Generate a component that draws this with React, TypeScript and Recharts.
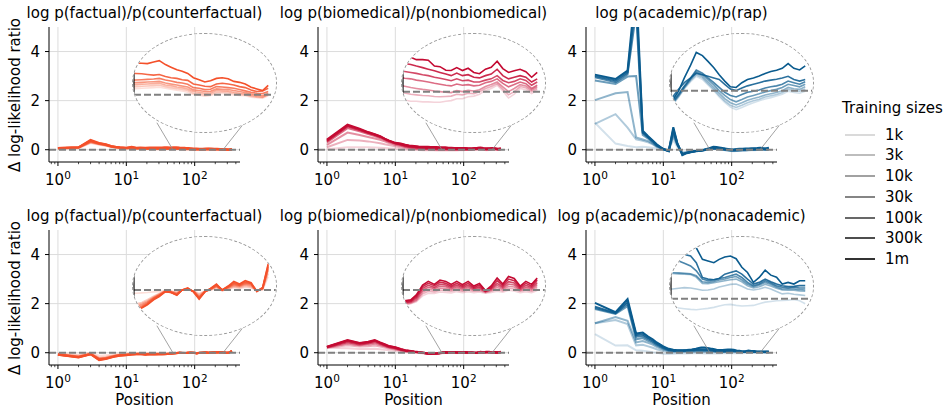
import React from 'react';
import { LineChart, Line, XAxis, YAxis, CartesianGrid, ReferenceLine } from 'recharts';

// token positions (shared by all panels)
const positions = [1, 2, 3, 4, 5, 6, 7, 8, 10, 12, 14, 16, 19, 22, 26, 30, 33, 36, 40, 44, 49, 54, 60, 66, 73, 80, 88, 97, 107, 118, 130, 144, 159, 176, 194, 214, 236, 261, 288, 318, 350];
const sizeLabels = ['1k', '3k', '10k', '30k', '100k', '300k', '1m'];
const xTicks = [0.8, 0.9, 1, 2, 3, 4, 5, 6, 7, 8, 9, 10, 20, 30, 40, 50, 60, 70, 80, 90, 100, 200, 300, 400];
const yTicks = [0, 2, 4];

// one row per training size, 1k -> 1m
const factualTop = [
  [0.04, 0.07, 0.27, 0.2, 0.16, 0.11, 0.08, 0.07, 0.05, 0.06, 0.04, 0.035, 0.025, 0.02, 0.02, 0.018, 0.018, 0.019, 0.02, 0.021, 0.022, 0.023, 0.02, 0.017, 0.014, 0.012, 0.008, 0.001, -0.001, -0.004, -0.002, 0.004, 0.004, 0.003, 0, -0.002, -0.003, -0.007, -0.009, -0.01, -0.003],
  [0.05, 0.08, 0.29, 0.22, 0.17, 0.12, 0.09, 0.07, 0.05, 0.07, 0.04, 0.04, 0.03, 0.026, 0.025, 0.024, 0.024, 0.025, 0.026, 0.027, 0.028, 0.029, 0.025, 0.022, 0.019, 0.017, 0.013, 0.005, 0.003, 0, 0.002, 0.008, 0.008, 0.007, 0.004, 0.002, 0, -0.004, -0.007, -0.008, 0],
  [0.05, 0.08, 0.31, 0.23, 0.18, 0.12, 0.09, 0.08, 0.06, 0.07, 0.045, 0.045, 0.035, 0.032, 0.03, 0.03, 0.03, 0.031, 0.032, 0.033, 0.034, 0.035, 0.03, 0.028, 0.024, 0.022, 0.018, 0.01, 0.008, 0.005, 0.006, 0.013, 0.012, 0.011, 0.008, 0.005, 0.003, -0.001, -0.004, -0.006, 0.002],
  [0.06, 0.09, 0.33, 0.24, 0.19, 0.13, 0.1, 0.08, 0.06, 0.08, 0.05, 0.05, 0.04, 0.04, 0.038, 0.036, 0.036, 0.037, 0.038, 0.039, 0.04, 0.041, 0.036, 0.033, 0.03, 0.027, 0.024, 0.015, 0.013, 0.01, 0.011, 0.018, 0.017, 0.016, 0.013, 0.01, 0.007, 0.003, 0, -0.002, 0.005],
  [0.06, 0.09, 0.35, 0.25, 0.2, 0.13, 0.1, 0.09, 0.07, 0.09, 0.06, 0.06, 0.05, 0.045, 0.045, 0.044, 0.044, 0.045, 0.046, 0.047, 0.048, 0.05, 0.045, 0.042, 0.038, 0.036, 0.032, 0.022, 0.02, 0.016, 0.017, 0.025, 0.024, 0.022, 0.02, 0.016, 0.012, 0.008, 0.005, 0.004, 0.01],
  [0.07, 0.1, 0.37, 0.26, 0.21, 0.14, 0.11, 0.09, 0.07, 0.1, 0.07, 0.07, 0.06, 0.065, 0.065, 0.066, 0.066, 0.065, 0.064, 0.062, 0.06, 0.062, 0.056, 0.052, 0.05, 0.046, 0.044, 0.033, 0.03, 0.026, 0.025, 0.033, 0.035, 0.033, 0.03, 0.025, 0.022, 0.015, 0.01, 0.012, 0.02],
  [0.07, 0.1, 0.4, 0.28, 0.22, 0.15, 0.12, 0.1, 0.08, 0.12, 0.08, 0.09, 0.08, 0.09, 0.09, 0.095, 0.095, 0.097, 0.096, 0.095, 0.1, 0.104, 0.092, 0.084, 0.076, 0.072, 0.065, 0.052, 0.046, 0.039, 0.043, 0.05, 0.052, 0.049, 0.041, 0.038, 0.033, 0.023, 0.018, 0.013, 0.029],
];

const biomedTop = [
  [0.02, 0.1, 0.1, 0.1, 0.09, 0.08, 0.07, 0.06, 0.05, 0.03, 0.01, 0, -0.01, -0.015, -0.018, -0.02, -0.022, -0.026, -0.03, -0.03, -0.032, -0.032, -0.033, -0.033, -0.03, -0.028, -0.022, -0.022, -0.016, -0.014, -0.008, 0.004, 0.01, 0.02, 0.002, -0.02, -0.008, 0.01, 0.006, -0.006, 0.005],
  [0.1, 0.4, 0.38, 0.34, 0.3, 0.26, 0.22, 0.19, 0.14, 0.1, 0.07, 0.05, 0.03, 0.015, 0.005, 0.002, 0, -0.004, -0.008, -0.01, -0.012, -0.013, -0.015, -0.016, -0.015, -0.014, -0.008, -0.01, -0.005, -0.006, 0, 0.01, 0.016, 0.025, 0.008, -0.01, 0, 0.016, 0.012, 0, 0.01],
  [0.2, 0.7, 0.6, 0.52, 0.46, 0.4, 0.34, 0.28, 0.2, 0.16, 0.11, 0.08, 0.06, 0.045, 0.03, 0.025, 0.02, 0.017, 0.013, 0.01, 0.007, 0.005, 0.002, 0, -0.002, -0.003, 0.003, 0, 0.004, 0.002, 0.006, 0.016, 0.022, 0.03, 0.015, 0, 0.01, 0.022, 0.018, 0.005, 0.015],
  [0.3, 0.88, 0.75, 0.64, 0.56, 0.48, 0.4, 0.33, 0.24, 0.19, 0.14, 0.11, 0.09, 0.07, 0.055, 0.05, 0.045, 0.042, 0.04, 0.036, 0.033, 0.03, 0.026, 0.023, 0.02, 0.018, 0.024, 0.02, 0.022, 0.018, 0.02, 0.028, 0.032, 0.04, 0.026, 0.015, 0.022, 0.03, 0.025, 0.01, 0.02],
  [0.35, 0.95, 0.8, 0.68, 0.6, 0.52, 0.43, 0.36, 0.26, 0.21, 0.16, 0.13, 0.11, 0.09, 0.075, 0.07, 0.065, 0.063, 0.06, 0.057, 0.053, 0.05, 0.045, 0.042, 0.038, 0.034, 0.04, 0.034, 0.036, 0.03, 0.03, 0.036, 0.04, 0.05, 0.035, 0.028, 0.032, 0.04, 0.035, 0.02, 0.03],
  [0.38, 0.98, 0.83, 0.7, 0.62, 0.54, 0.44, 0.37, 0.27, 0.23, 0.18, 0.15, 0.13, 0.11, 0.1, 0.095, 0.09, 0.088, 0.085, 0.08, 0.075, 0.07, 0.065, 0.06, 0.055, 0.05, 0.058, 0.05, 0.053, 0.045, 0.043, 0.05, 0.055, 0.07, 0.05, 0.04, 0.045, 0.05, 0.045, 0.03, 0.04],
  [0.41, 1.02, 0.86, 0.72, 0.63, 0.55, 0.45, 0.38, 0.28, 0.25, 0.2, 0.17, 0.15, 0.13, 0.12, 0.12, 0.115, 0.11, 0.107, 0.1, 0.1, 0.098, 0.08, 0.078, 0.067, 0.066, 0.075, 0.066, 0.073, 0.06, 0.056, 0.07, 0.076, 0.095, 0.072, 0.06, 0.065, 0.07, 0.062, 0.045, 0.06],
];

const rapTop = [
  [1.1, 0.25, 0.15, 0.1, 0.12, 0.1, 0.08, 0.06, 0.04, 0, 0.4, 0.12, -0.08, -0.08, -0.06, -0.05, -0.05, -0.045, -0.02, 0.005, 0.028, 0.045, 0.035, 0.018, 0, -0.02, -0.037, -0.052, -0.06, -0.053, -0.045, -0.038, -0.032, -0.026, -0.022, -0.017, -0.011, -0.002, -0.006, -0.008, -0.002],
  [1.05, 1.45, 0.9, 0.42, 0.36, 0.3, 0.22, 0.12, 0.04, -0.03, 0.55, 0.18, -0.13, -0.1, -0.07, -0.05, -0.05, -0.042, -0.018, 0.008, 0.032, 0.05, 0.04, 0.022, 0.004, -0.015, -0.032, -0.046, -0.053, -0.046, -0.038, -0.032, -0.027, -0.02, -0.016, -0.012, -0.006, 0.004, 0, -0.002, 0.005],
  [2.02, 2.3, 2.35, 0.5, 0.42, 0.35, 0.25, 0.14, 0.03, -0.04, 0.62, 0.2, -0.15, -0.11, -0.08, -0.055, -0.05, -0.04, -0.015, 0.01, 0.035, 0.055, 0.045, 0.028, 0.01, -0.008, -0.025, -0.038, -0.045, -0.038, -0.03, -0.025, -0.02, -0.014, -0.01, -0.006, 0, 0.01, 0.006, 0.004, 0.012],
  [2.82, 2.68, 2.98, 3.0, 0.6, 0.45, 0.3, 0.16, 0.02, -0.05, 0.7, 0.22, -0.17, -0.12, -0.08, -0.055, -0.05, -0.038, -0.012, 0.012, 0.038, 0.06, 0.05, 0.035, 0.018, 0, -0.015, -0.028, -0.035, -0.028, -0.02, -0.015, -0.01, -0.004, 0, 0.004, 0.01, 0.02, 0.016, 0.012, 0.02],
  [2.95, 2.75, 3.08, 5.6, 0.68, 0.5, 0.34, 0.18, 0.02, -0.05, 0.78, 0.24, -0.18, -0.12, -0.08, -0.055, -0.05, -0.035, -0.01, 0.015, 0.04, 0.065, 0.055, 0.04, 0.025, 0.01, -0.005, -0.015, -0.02, -0.012, -0.005, -0.002, 0.002, 0.008, 0.012, 0.015, 0.02, 0.03, 0.025, 0.02, 0.028],
  [3.0, 2.82, 3.15, 6.2, 0.72, 0.52, 0.36, 0.2, 0.02, -0.06, 0.85, 0.26, -0.2, -0.13, -0.08, -0.055, -0.05, -0.02, 0.005, 0.025, 0.04, 0.055, 0.05, 0.045, 0.04, 0.035, 0.02, 0.005, 0, 0.008, 0.015, 0.02, 0.025, 0.03, 0.033, 0.036, 0.04, 0.045, 0.035, 0.03, 0.035],
  [3.06, 2.88, 3.22, 6.8, 0.78, 0.55, 0.38, 0.22, 0.03, -0.06, 0.92, 0.28, -0.22, -0.14, -0.09, -0.06, -0.05, -0.03, 0, 0.04, 0.08, 0.12, 0.11, 0.092, 0.072, 0.05, 0.03, 0.012, 0.01, 0.025, 0.035, 0.04, 0.046, 0.054, 0.06, 0.064, 0.07, 0.085, 0.07, 0.065, 0.078],
];

const factualBottom = [
  [-0.03, -0.08, 0, -0.12, -0.1, -0.08, -0.06, -0.05, -0.04, -0.03, -0.025, -0.02, -0.02, -0.015, -0.012, -0.01, -0.01, -0.01, -0.009, -0.008, -0.006, -0.005, -0.002, -0.004, -0.006, 0, 0, -0.003, -0.01, -0.004, -0.001, 0.005, -0.003, 0.002, 0.007, 0.004, 0.008, 0.006, -0.002, 0, 0.04],
  [-0.05, -0.12, -0.03, -0.2, -0.17, -0.13, -0.1, -0.08, -0.06, -0.045, -0.04, -0.035, -0.05, -0.045, -0.045, -0.045, -0.045, -0.043, -0.038, -0.03, -0.019, -0.011, -0.002, -0.004, -0.008, 0, 0.001, -0.003, -0.014, -0.004, 0, 0.008, -0.002, 0.004, 0.01, 0.007, 0.011, 0.009, -0.002, 0.002, 0.05],
  [-0.06, -0.15, -0.04, -0.23, -0.2, -0.15, -0.11, -0.09, -0.07, -0.05, -0.045, -0.04, -0.055, -0.05, -0.05, -0.05, -0.05, -0.048, -0.042, -0.034, -0.022, -0.013, -0.003, -0.005, -0.01, 0, 0.002, -0.004, -0.018, -0.004, 0.001, 0.01, -0.001, 0.006, 0.013, 0.01, 0.015, 0.012, -0.002, 0.003, 0.06],
  [-0.07, -0.16, -0.05, -0.25, -0.22, -0.17, -0.12, -0.1, -0.08, -0.06, -0.05, -0.045, -0.06, -0.05, -0.055, -0.054, -0.054, -0.052, -0.046, -0.037, -0.024, -0.015, -0.004, -0.006, -0.012, 0, 0.003, -0.004, -0.021, -0.005, 0.002, 0.012, 0, 0.008, 0.016, 0.012, 0.018, 0.015, -0.002, 0.004, 0.065],
  [-0.07, -0.17, -0.05, -0.27, -0.24, -0.18, -0.13, -0.1, -0.09, -0.06, -0.05, -0.05, -0.07, -0.055, -0.06, -0.058, -0.058, -0.056, -0.05, -0.04, -0.026, -0.016, -0.004, -0.007, -0.014, 0, 0.004, -0.005, -0.024, -0.005, 0.003, 0.014, 0, 0.009, 0.019, 0.014, 0.021, 0.018, -0.003, 0.005, 0.07],
  [-0.08, -0.18, -0.06, -0.28, -0.25, -0.19, -0.14, -0.11, -0.09, -0.07, -0.06, -0.05, -0.07, -0.06, -0.065, -0.062, -0.062, -0.06, -0.053, -0.043, -0.028, -0.018, -0.005, -0.008, -0.015, 0, 0.005, -0.005, -0.026, -0.006, 0.004, 0.016, 0, 0.01, 0.022, 0.016, 0.024, 0.02, -0.004, 0.006, 0.075],
  [-0.08, -0.19, -0.06, -0.3, -0.26, -0.2, -0.15, -0.12, -0.1, -0.07, -0.06, -0.05, -0.08, -0.06, -0.07, -0.065, -0.065, -0.062, -0.055, -0.045, -0.03, -0.02, -0.005, -0.008, -0.016, 0, 0.006, -0.006, -0.028, -0.006, 0.005, 0.018, 0, 0.012, 0.026, 0.018, 0.028, 0.022, -0.005, 0.008, 0.08],
];

const biomedBottom = [
  [0.2, 0.18, 0.15, 0.15, 0.16, 0.14, 0.12, 0.1, 0.08, 0.05, 0.03, 0.02, 0.01, -0.01, -0.025, -0.046, -0.048, -0.045, -0.042, -0.036, -0.018, -0.01, -0.011, -0.006, -0.008, -0.009, -0.005, -0.008, -0.005, -0.008, -0.006, -0.01, -0.008, -0.004, -0.007, -0.001, -0.003, -0.008, -0.005, -0.008, -0.002],
  [0.2, 0.3, 0.25, 0.26, 0.29, 0.25, 0.21, 0.17, 0.13, 0.08, 0.05, 0.04, 0.02, 0, -0.02, -0.044, -0.047, -0.043, -0.04, -0.033, -0.012, -0.004, -0.006, 0, -0.002, -0.004, 0, -0.004, 0, -0.004, -0.002, -0.008, -0.004, 0.002, -0.003, 0.005, 0.003, -0.004, 0, -0.004, 0.004],
  [0.21, 0.38, 0.3, 0.33, 0.37, 0.31, 0.26, 0.21, 0.16, 0.1, 0.07, 0.05, 0.03, 0.01, -0.015, -0.042, -0.046, -0.041, -0.038, -0.03, -0.006, 0.002, -0.001, 0.006, 0.004, 0, 0.005, 0, 0.005, -0.001, 0.002, -0.006, -0.001, 0.008, 0.001, 0.011, 0.009, -0.001, 0.004, 0, 0.01],
  [0.22, 0.43, 0.34, 0.38, 0.43, 0.35, 0.29, 0.23, 0.18, 0.12, 0.08, 0.06, 0.035, 0.015, -0.012, -0.04, -0.045, -0.039, -0.036, -0.026, 0, 0.008, 0.004, 0.012, 0.01, 0.004, 0.01, 0.004, 0.01, 0.002, 0.006, -0.005, 0.002, 0.014, 0.005, 0.018, 0.015, 0.002, 0.009, 0.004, 0.016],
  [0.23, 0.47, 0.37, 0.41, 0.47, 0.38, 0.31, 0.25, 0.2, 0.13, 0.09, 0.07, 0.04, 0.02, -0.01, -0.038, -0.044, -0.037, -0.034, -0.022, 0.005, 0.014, 0.008, 0.018, 0.015, 0.008, 0.015, 0.008, 0.015, 0.005, 0.01, -0.004, 0.005, 0.02, 0.009, 0.025, 0.021, 0.005, 0.014, 0.008, 0.022],
  [0.24, 0.5, 0.39, 0.43, 0.5, 0.4, 0.33, 0.27, 0.21, 0.14, 0.095, 0.075, 0.045, 0.025, -0.005, -0.035, -0.042, -0.035, -0.032, -0.018, 0.01, 0.02, 0.013, 0.024, 0.02, 0.012, 0.02, 0.012, 0.02, 0.008, 0.015, -0.003, 0.008, 0.028, 0.013, 0.033, 0.028, 0.008, 0.02, 0.012, 0.03],
  [0.25, 0.52, 0.4, 0.45, 0.52, 0.42, 0.35, 0.28, 0.22, 0.15, 0.1, 0.08, 0.05, 0.03, 0, -0.03, -0.04, -0.033, -0.03, -0.015, 0.015, 0.026, 0.017, 0.03, 0.026, 0.017, 0.026, 0.016, 0.026, 0.012, 0.02, -0.002, 0.012, 0.036, 0.018, 0.041, 0.035, 0.012, 0.026, 0.017, 0.036],
];

const nonacadBottom = [
  [0.76, 0.29, 0.3, 0.1, 0.08, 0.05, 0.02, 0, -0.04, -0.05, -0.04, -0.035, -0.03, -0.028, -0.026, -0.025, -0.025, -0.026, -0.028, -0.03, -0.032, -0.033, -0.031, -0.029, -0.026, -0.022, -0.018, -0.017, -0.02, -0.022, -0.021, -0.02, -0.015, -0.01, -0.008, -0.006, -0.005, -0.004, -0.002, -0.006, -0.015],
  [1.2, 1.33, 1.17, 0.3, 0.32, 0.26, 0.2, 0.14, 0.07, 0.03, 0.02, 0.02, 0.025, 0.028, 0.03, 0.03, 0.03, 0.03, 0.032, 0.034, 0.033, 0.03, 0.026, 0.027, 0.03, 0.036, 0.04, 0.044, 0.045, 0.038, 0.03, 0.027, 0.03, 0.035, 0.03, 0.022, 0.015, 0.017, 0.014, 0.012, 0.01],
  [1.2, 1.45, 1.3, 0.42, 0.48, 0.4, 0.33, 0.24, 0.13, 0.07, 0.06, 0.06, 0.065, 0.07, 0.074, 0.077, 0.078, 0.077, 0.076, 0.075, 0.074, 0.066, 0.047, 0.046, 0.049, 0.052, 0.055, 0.058, 0.06, 0.052, 0.04, 0.033, 0.037, 0.044, 0.039, 0.032, 0.027, 0.026, 0.026, 0.024, 0.023],
  [1.78, 1.58, 1.9, 0.55, 0.6, 0.48, 0.4, 0.3, 0.17, 0.09, 0.07, 0.07, 0.072, 0.076, 0.079, 0.081, 0.082, 0.08, 0.079, 0.078, 0.076, 0.07, 0.052, 0.05, 0.053, 0.057, 0.06, 0.065, 0.068, 0.058, 0.045, 0.037, 0.042, 0.05, 0.044, 0.036, 0.03, 0.03, 0.03, 0.028, 0.027],
  [1.82, 1.6, 2.0, 0.65, 0.68, 0.55, 0.45, 0.34, 0.2, 0.11, 0.085, 0.08, 0.082, 0.09, 0.1, 0.11, 0.115, 0.118, 0.115, 0.108, 0.1, 0.085, 0.06, 0.055, 0.058, 0.062, 0.065, 0.07, 0.075, 0.065, 0.05, 0.04, 0.045, 0.055, 0.048, 0.04, 0.035, 0.033, 0.035, 0.033, 0.033],
  [1.88, 1.62, 2.08, 0.72, 0.75, 0.6, 0.5, 0.38, 0.23, 0.13, 0.095, 0.09, 0.09, 0.1, 0.11, 0.13, 0.14, 0.145, 0.14, 0.135, 0.13, 0.11, 0.065, 0.06, 0.058, 0.062, 0.075, 0.08, 0.085, 0.075, 0.06, 0.045, 0.05, 0.06, 0.052, 0.045, 0.04, 0.037, 0.038, 0.04, 0.04],
  [2.03, 1.65, 2.19, 0.78, 0.82, 0.66, 0.55, 0.42, 0.26, 0.16, 0.12, 0.1, 0.1, 0.11, 0.13, 0.16, 0.19, 0.21, 0.21, 0.19, 0.17, 0.155, 0.12, 0.115, 0.11, 0.12, 0.127, 0.13, 0.122, 0.096, 0.08, 0.05, 0.065, 0.087, 0.072, 0.066, 0.045, 0.05, 0.045, 0.055, 0.055],
];

const sizeOpacity = [0.18, 0.32, 0.46, 0.6, 0.74, 0.87, 1];
const ORANGE = '#f4502a';
const CRIMSON = '#c40a32';
const BLUE = '#0a5b8e';

const PLOT_W = 191;
const PLOT_H = 135;
const Y_W = 35;
const X_H = 30;
const M_TOP = 27;
const M_RIGHT = 40;
const FONT = "'DejaVu Sans', sans-serif";
const FS = 15;

const panels = [
  { title: 'log p(factual)/p(counterfactual)', series: factualTop, color: ORANGE, left: 49, top: 27, insetY: [-0.113, 0.185], first: true, bottom: false },
  { title: 'log p(biomedical)/p(nonbiomedical)', series: biomedTop, color: CRIMSON, left: 318, top: 27, insetY: [-0.126, 0.18], first: false, bottom: false },
  { title: 'log p(academic)/p(rap)', series: rapTop, color: BLUE, left: 586, top: 27, insetY: [-0.13, 0.178], first: false, bottom: false },
  { title: 'log p(factual)/p(counterfactual)', series: factualBottom, color: ORANGE, left: 49, top: 230, insetY: [-0.137, 0.161], first: true, bottom: true },
  { title: 'log p(biomedical)/p(nonbiomedical)', series: biomedBottom, color: CRIMSON, left: 318, top: 230, insetY: [-0.137, 0.161], first: false, bottom: true },
  { title: 'log p(academic)/p(nonacademic)', series: nonacadBottom, color: BLUE, left: 586, top: 230, insetY: [-0.11, 0.188], first: false, bottom: true },
];

function LogTick(props: any) {
  const { x, y, payload } = props;
  const exp = Math.log10(payload.value);
  const major = Math.abs(exp - Math.round(exp)) < 1e-6;
  return (
    <g>
      <line x1={x} x2={x} y1={y} y2={y + (major ? 4 : 2.2)} stroke="#000" strokeWidth={major ? 1 : 0.7} />
      {major ? (
        <text x={x} y={y + 23} textAnchor="middle" fontSize={FS} fill="#000" fontFamily={FONT}>
          10<tspan dy={-6} fontSize={10.5}>{Math.round(exp)}</tspan>
        </text>
      ) : null}
    </g>
  );
}

function Panel({ cfg }: { cfg: any }) {
  const rows = positions.map((p, i) => {
    const r: Record<string, number> = { pos: p };
    cfg.series.forEach((s: number[], k: number) => {
      r['s' + k] = s[i];
    });
    return r;
  });

  const lines = (width: number) =>
    cfg.series.map((_: number[], k: number) => (
      <Line
        key={k}
        type="linear"
        dataKey={'s' + k}
        stroke={cfg.color}
        strokeOpacity={sizeOpacity[k]}
        strokeWidth={width}
        dot={false}
        isAnimationActive={false}
      />
    ));

  return (
    <>
      <div
        style={{
          position: 'absolute', left: cfg.left - 40, width: PLOT_W + 80, top: cfg.top - 24,
          height: 20, lineHeight: '20px', textAlign: 'center', fontSize: FS, whiteSpace: 'nowrap',
        }}
      >
        {cfg.title}
      </div>

      <div style={{ position: 'absolute', left: cfg.left - Y_W, top: cfg.top - M_TOP }}>
        <LineChart
          width={Y_W + PLOT_W + M_RIGHT}
          height={M_TOP + PLOT_H + X_H}
          data={rows}
          margin={{ top: M_TOP, right: M_RIGHT, bottom: 0, left: 0 }}
        >
          <CartesianGrid stroke="#dcdcdc" horizontalValues={yTicks} verticalValues={[1, 10, 100]} />
          <XAxis
            dataKey="pos"
            type="number"
            scale="log"
            domain={[0.74, 460]}
            allowDataOverflow
            ticks={xTicks}
            interval={0}
            tick={<LogTick />}
            tickLine={false}
            tickSize={0}
            tickMargin={0}
            height={X_H}
            axisLine={{ stroke: '#000' }}
          />
          <YAxis
            type="number"
            domain={[-0.5, 5]}
            allowDataOverflow
            ticks={yTicks}
            interval={0}
            width={Y_W}
            tickSize={4}
            tickMargin={5}
            tick={{ fill: '#000', fontSize: FS }}
            tickLine={{ stroke: '#000' }}
            axisLine={{ stroke: '#000' }}
          />
          {lines(2)}
          <ReferenceLine y={0} stroke="#808080" strokeWidth={2} strokeDasharray="7 3" />
          <ReferenceLine segment={[{ x: 48, y: 0 }, { x: 28, y: 1.1 }]} stroke="#8c8c8c" strokeWidth={0.8} ifOverflow="visible" />
          <ReferenceLine segment={[{ x: 260, y: 0 }, { x: 500, y: 1.0 }]} stroke="#8c8c8c" strokeWidth={0.8} ifOverflow="visible" />
        </LineChart>
      </div>

      <div
        style={{
          position: 'absolute', left: cfg.left + 83, top: cfg.top + 6, width: 145, height: 100,
          borderRadius: '50%', border: '1px dashed #999', overflow: 'hidden', background: '#fff',
          boxSizing: 'border-box',
        }}
      >
        <LineChart width={143} height={98} data={rows} margin={{ top: 0, right: 0, bottom: 0, left: 0 }}>
          <CartesianGrid stroke="#dcdcdc" horizontalValues={[-0.1, 0.1]} verticalValues={[100]} />
          <XAxis dataKey="pos" type="number" scale="log" domain={[35, 400]} allowDataOverflow hide />
          <YAxis
            type="number"
            domain={cfg.insetY}
            allowDataOverflow
            width={1}
            tick={false}
            tickLine={false}
            axisLine={{ stroke: '#000', strokeWidth: 1.2 }}
          />
          {lines(1.6)}
          <ReferenceLine y={0} stroke="#808080" strokeWidth={2} strokeDasharray="7 3" />
        </LineChart>
      </div>

      {cfg.first ? (
        <div
          style={{
            position: 'absolute', left: 15 - 100, top: cfg.top + 68 - 10, width: 200, height: 20,
            lineHeight: '20px', textAlign: 'center', fontSize: FS, transform: 'rotate(-90deg)', whiteSpace: 'nowrap',
          }}
        >
          Δ log-likelihood ratio
        </div>
      ) : null}

      {cfg.bottom ? (
        <div
          style={{
            position: 'absolute', left: cfg.left, width: PLOT_W, top: cfg.top + 160,
            height: 20, lineHeight: '20px', textAlign: 'center', fontSize: FS,
          }}
        >
          Position
        </div>
      ) : null}
    </>
  );
}

function Legend() {
  return (
    <>
      <div style={{ position: 'absolute', left: 842, top: 98, height: 20, lineHeight: '20px', fontSize: FS, whiteSpace: 'nowrap' }}>
        Training sizes
      </div>
      {sizeLabels.map((s, k) => {
        const cy = 134.5 + 20.75 * k;
        return (
          <React.Fragment key={s}>
            <div style={{ position: 'absolute', left: 845, top: cy - 1, width: 30, height: 2, background: '#333', opacity: sizeOpacity[k] }} />
            <div style={{ position: 'absolute', left: 885, top: cy - 10, height: 20, lineHeight: '20px', fontSize: FS }}>{s}</div>
          </React.Fragment>
        );
      })}
    </>
  );
}

export default function App() {
  return (
    <div
      style={{
        position: 'absolute', left: 0, top: 0, width: 945, height: 409, background: '#fff',
        fontFamily: FONT, color: '#000', overflow: 'hidden',
      }}
    >
      {panels.map((p, i) => (
        <Panel key={i} cfg={p} />
      ))}
      <Legend />
    </div>
  );
}
